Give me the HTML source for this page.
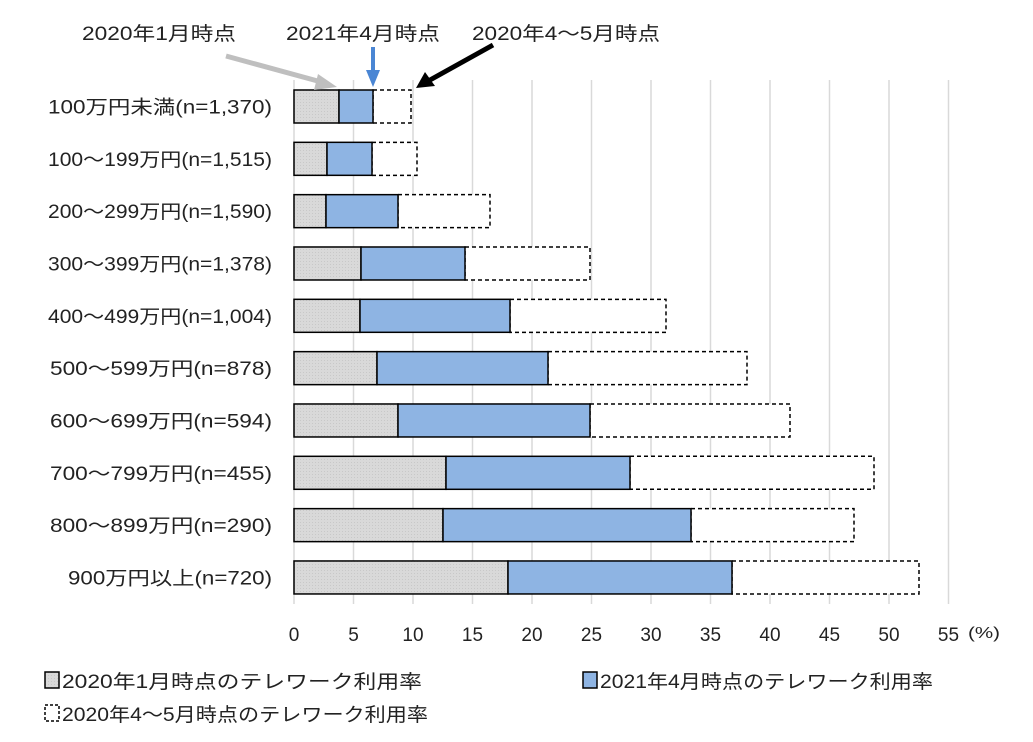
<!DOCTYPE html>
<html><head><meta charset="utf-8"><style>
body{margin:0;background:#fff;}
text{font-family:"Liberation Sans","Noto Sans CJK JP",sans-serif;fill:#222;}
</style></head><body>
<svg width="1033" height="737" viewBox="0 0 1033 737" xmlns="http://www.w3.org/2000/svg">
<defs><pattern id="dot" width="3" height="3" patternUnits="userSpaceOnUse"><rect width="3" height="3" fill="#d9d9d9"/><rect width="1" height="1" fill="#c8c8c8"/></pattern></defs>
<g stroke="#d9d9d9" stroke-width="1.5">
<line x1="353.5" y1="80" x2="353.5" y2="597"/><line x1="413" y1="80" x2="413" y2="597"/><line x1="472.5" y1="80" x2="472.5" y2="597"/><line x1="532" y1="80" x2="532" y2="597"/><line x1="591.5" y1="80" x2="591.5" y2="597"/><line x1="651" y1="80" x2="651" y2="597"/><line x1="710.5" y1="80" x2="710.5" y2="597"/><line x1="770" y1="80" x2="770" y2="597"/><line x1="829.5" y1="80" x2="829.5" y2="597"/><line x1="889" y1="80" x2="889" y2="597"/><line x1="948.5" y1="80" x2="948.5" y2="597"/>
</g>
<g stroke="#d9d9d9" stroke-width="1.5">
<line x1="294" y1="597" x2="294" y2="604"/><line x1="353.5" y1="597" x2="353.5" y2="604"/><line x1="413" y1="597" x2="413" y2="604"/><line x1="472.5" y1="597" x2="472.5" y2="604"/><line x1="532" y1="597" x2="532" y2="604"/><line x1="591.5" y1="597" x2="591.5" y2="604"/><line x1="651" y1="597" x2="651" y2="604"/><line x1="710.5" y1="597" x2="710.5" y2="604"/><line x1="770" y1="597" x2="770" y2="604"/><line x1="829.5" y1="597" x2="829.5" y2="604"/><line x1="889" y1="597" x2="889" y2="604"/><line x1="948.5" y1="597" x2="948.5" y2="604"/>
</g>
<line x1="294" y1="80" x2="294" y2="597" stroke="#d9d9d9" stroke-width="1.5"/>
<g id="bars" stroke="#000" stroke-width="1.5"></g>
<g font-size="19" text-anchor="end" id="labels"></g>
<g font-size="19" text-anchor="middle">
<text x="294" y="641">0</text><text x="353.5" y="641">5</text><text x="413" y="641">10</text><text x="472.5" y="641">15</text><text x="532" y="641">20</text><text x="591.5" y="641">25</text><text x="651" y="641">30</text><text x="710.5" y="641">35</text><text x="770" y="641">40</text><text x="829.5" y="641">45</text><text x="889" y="641">50</text><text x="948.5" y="641">55</text>
</g>
<text x="968" y="638" font-size="16" textLength="32" lengthAdjust="spacingAndGlyphs">(%)</text>
<g font-size="19">
<text x="82" y="40" textLength="154" lengthAdjust="spacingAndGlyphs">2020年1月時点</text>
<text x="286" y="40" textLength="154" lengthAdjust="spacingAndGlyphs">2021年4月時点</text>
<text x="472" y="40" textLength="188" lengthAdjust="spacingAndGlyphs">2020年4〜5月時点</text>
</g>
<line x1="226" y1="56" x2="325" y2="83" stroke="#bfbfbf" stroke-width="5"/>
<polygon points="337,87 318,74 314,90" fill="#bfbfbf"/>
<line x1="373" y1="47" x2="373" y2="72" stroke="#4a86d4" stroke-width="4"/>
<polygon points="366,70 380,70 373,87" fill="#4a86d4"/>
<line x1="493" y1="45" x2="430" y2="80" stroke="#000" stroke-width="5"/>
<polygon points="416,88 425,72 435,86" fill="#000"/>
<g font-size="19">
<rect x="45" y="672" width="14" height="16" fill="url(#dot)" stroke="#000" stroke-width="1.5"/>
<text x="62" y="688" textLength="360" lengthAdjust="spacingAndGlyphs">2020年1月時点のテレワーク利用率</text>
<rect x="583" y="672" width="14" height="16" fill="#8eb4e3" stroke="#000" stroke-width="1.5"/>
<text x="600" y="688" textLength="333" lengthAdjust="spacingAndGlyphs">2021年4月時点のテレワーク利用率</text>
<rect x="45" y="705" width="14" height="16" fill="#fff" stroke="#000" stroke-width="1.5" stroke-dasharray="3,2"/>
<text x="62" y="721" textLength="366" lengthAdjust="spacingAndGlyphs">2020年4〜5月時点のテレワーク利用率</text>
</g>
<script>
var d=[["100万円未満(n=1,370)",339,373,411,224],["100〜199万円(n=1,515)",327,372,417,224],["200〜299万円(n=1,590)",326,398,490,224],["300〜399万円(n=1,378)",361,465,590,224],["400〜499万円(n=1,004)",360,510,666,224],["500〜599万円(n=878)",377,548,747,222],["600〜699万円(n=594)",398,590,790,222],["700〜799万円(n=455)",446,630,874,222],["800〜899万円(n=290)",443,691,854,222],["900万円以上(n=720)",508,732,919,204]];
var ns="http://www.w3.org/2000/svg",b=document.getElementById("bars"),l=document.getElementById("labels");
function r(x,y,w,h,f,da){var e=document.createElementNS(ns,"rect");e.setAttribute("x",x);e.setAttribute("y",y);e.setAttribute("width",w);e.setAttribute("height",h);e.setAttribute("fill",f);if(da)e.setAttribute("stroke-dasharray",da);b.appendChild(e);}
d.forEach(function(v,i){var y=90+i*52.33,h=33;
r(v[2],y,v[3]-v[2],h,"#fff","4,3");
r(294,y,v[1]-294,h,"url(#dot)");
r(v[1],y,v[2]-v[1],h,"#8eb4e3");
var t=document.createElementNS(ns,"text");t.setAttribute("x",272);t.setAttribute("y",y+h/2+7);t.setAttribute("textLength",v[4]);t.setAttribute("lengthAdjust","spacingAndGlyphs");t.textContent=v[0];l.appendChild(t);});
</script>
</svg>
</body></html>
